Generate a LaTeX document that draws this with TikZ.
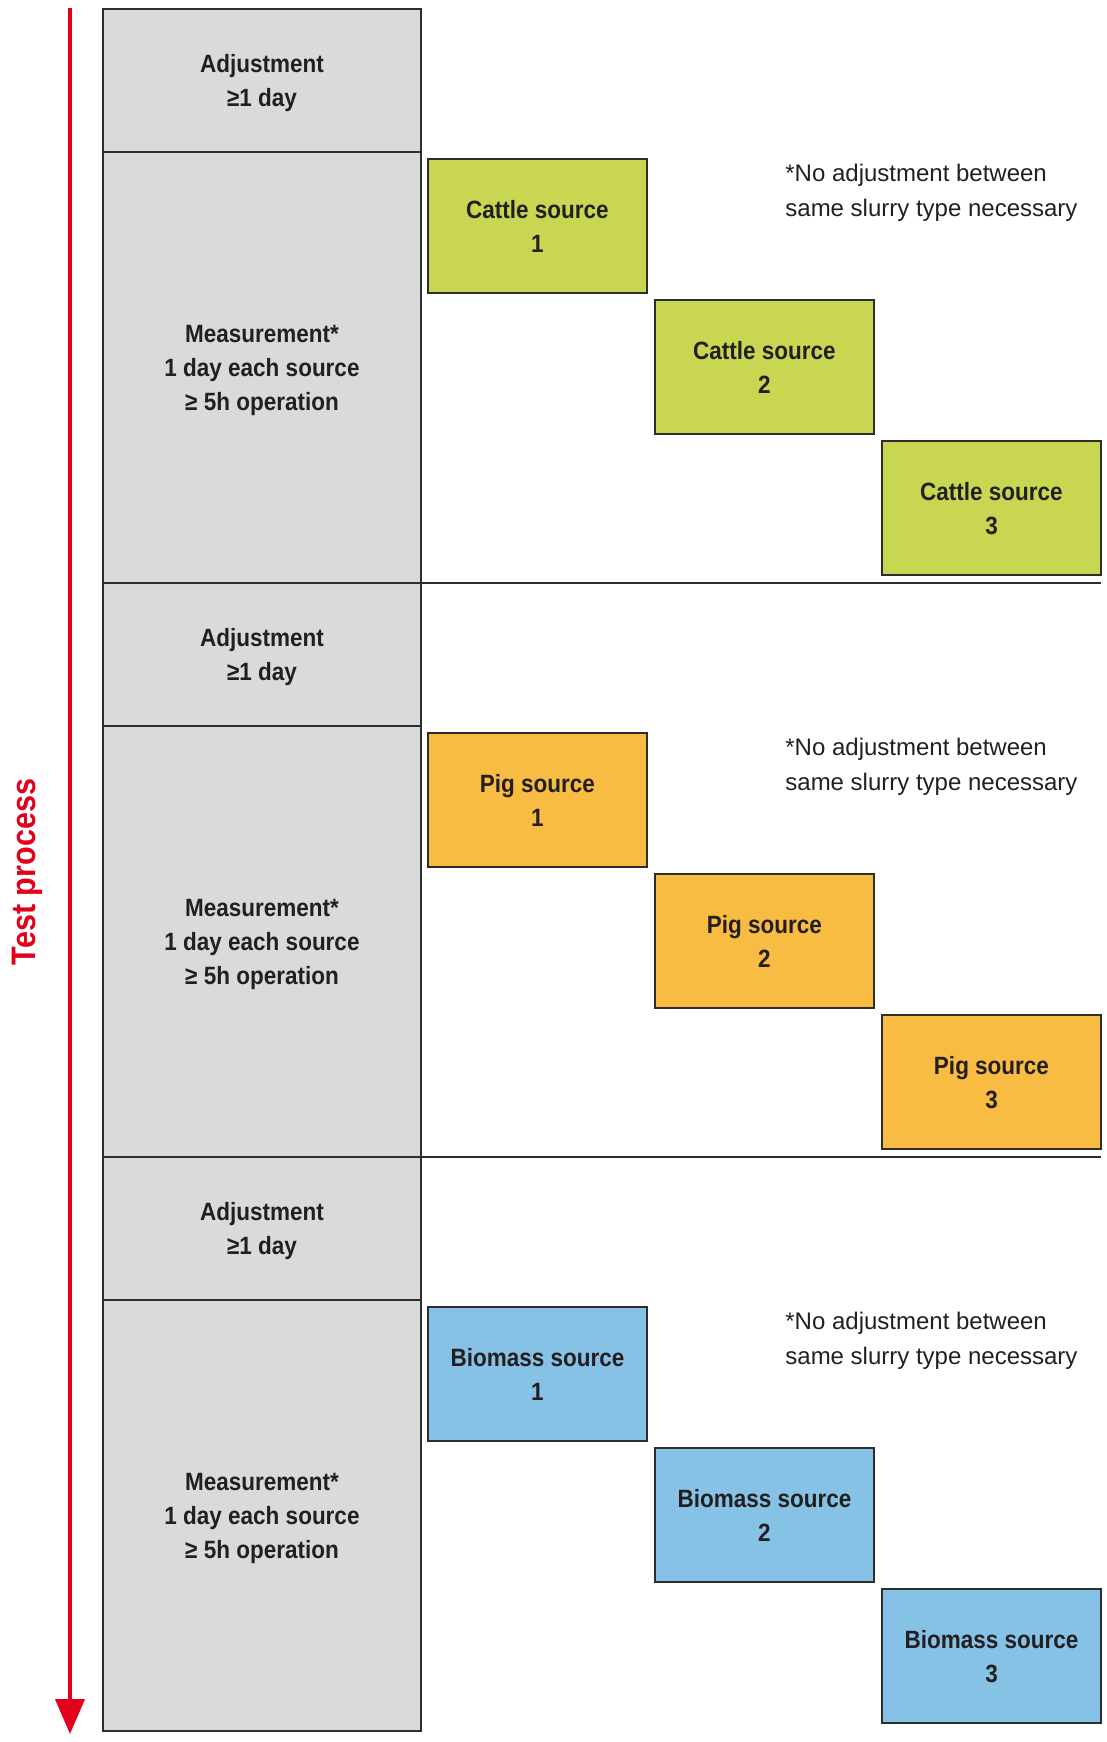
\documentclass[tikz,border=0pt]{standalone}
\usepackage{fontspec}
\setmainfont{Liberation Sans}
\newfontfamily\condfont[FakeStretch=0.9]{Liberation Sans}
\usetikzlibrary{positioning,arrows.meta}

\definecolor{testred}{RGB}{226,0,26}
\definecolor{colgray}{RGB}{217,218,220}
\definecolor{cattle}{RGB}{200,214,81}
\definecolor{pig}{RGB}{248,188,66}
\definecolor{biomass}{RGB}{134,194,230}
\definecolor{edge}{RGB}{45,45,45}
\definecolor{txt}{RGB}{35,31,32}

\begin{document}
\begin{tikzpicture}[
    x=0.5pt, y=-0.5pt,
    phase/.style={rectangle, draw=edge, line width=0.75pt, fill=colgray, outer sep=0pt, minimum width=159pt, text depth=-0.9pt, text=txt, align=center, font=\condfont\bfseries\fontsize{12.5}{17}\selectfont},
    adjust/.style={phase, minimum height=71.5pt},
    measure/.style={phase, minimum height=215.5pt},
    source/.style={rectangle, draw=edge, line width=0.6pt, outer sep=0pt, minimum width=109.5pt, minimum height=67pt, text depth=-2.2pt, text=txt, align=center, font=\condfont\bfseries\fontsize{12.5}{17}\selectfont},
    note/.style={inner sep=0pt, align=left, text=txt, font=\fontsize{12}{17.5}\selectfont},
    sep/.style={draw=edge, line width=0.6pt},
    procarrow/.style={-{Triangle[length=17.5pt, width=14.5pt]}, draw=testred, line width=2pt},
    procname/.style={rotate=90, anchor=base, text=testred, font=\condfont\bfseries\fontsize{17}{20}\selectfont}
]
    \useasboundingbox (0,0) rectangle (1107,1742);

    % time axis
    \coordinate (arrtop) at (70,8);
    \coordinate (arrtip) at (70,1734);
    \draw[procarrow] (arrtop) -- (arrtip);
    \node[procname] (proc) at (35,872) {Test process};

    % cattle
    \node[adjust] (adj1) at (262,80.5) {Adjustment\\≥1 day};
    \node[measure, below=0pt of adj1] (meas1) {Measurement*\\1 day each source\\≥ 5h operation};
    \node[source, fill=cattle, below right=3.5pt and 3.5pt of meas1.north east] (cattle1) {Cattle source\\1};
    \node[source, fill=cattle, below right=3.5pt and 4pt of cattle1] (cattle2) {Cattle source\\2};
    \node[source, fill=cattle, below right=3.5pt and 4pt of cattle2] (cattle3) {Cattle source\\3};
    \node[note, right=69pt of cattle1.north east, yshift=-17pt] (note1) {*No adjustment between\\same slurry type necessary};
    \draw[sep] (meas1.south east) -- (meas1.south east -| cattle3.east);

    % pig
    \node[adjust, below=0pt of meas1] (adj2) {Adjustment\\≥1 day};
    \node[measure, below=0pt of adj2] (meas2) {Measurement*\\1 day each source\\≥ 5h operation};
    \node[source, fill=pig, below right=3.5pt and 3.5pt of meas2.north east] (pig1) {Pig source\\1};
    \node[source, fill=pig, below right=3.5pt and 4pt of pig1] (pig2) {Pig source\\2};
    \node[source, fill=pig, below right=3.5pt and 4pt of pig2] (pig3) {Pig source\\3};
    \node[note, right=69pt of pig1.north east, yshift=-17pt] (note2) {*No adjustment between\\same slurry type necessary};
    \draw[sep] (meas2.south east) -- (meas2.south east -| pig3.east);

    % biomass
    \node[adjust, below=0pt of meas2] (adj3) {Adjustment\\≥1 day};
    \node[measure, below=0pt of adj3] (meas3) {Measurement*\\1 day each source\\≥ 5h operation};
    \node[source, fill=biomass, below right=3.5pt and 3.5pt of meas3.north east] (bio1) {Biomass source\\1};
    \node[source, fill=biomass, below right=3.5pt and 4pt of bio1] (bio2) {Biomass source\\2};
    \node[source, fill=biomass, below right=3.5pt and 4pt of bio2] (bio3) {Biomass source\\3};
    \node[note, right=69pt of bio1.north east, yshift=-17pt] (note3) {*No adjustment between\\same slurry type necessary};
\end{tikzpicture}
\end{document}
